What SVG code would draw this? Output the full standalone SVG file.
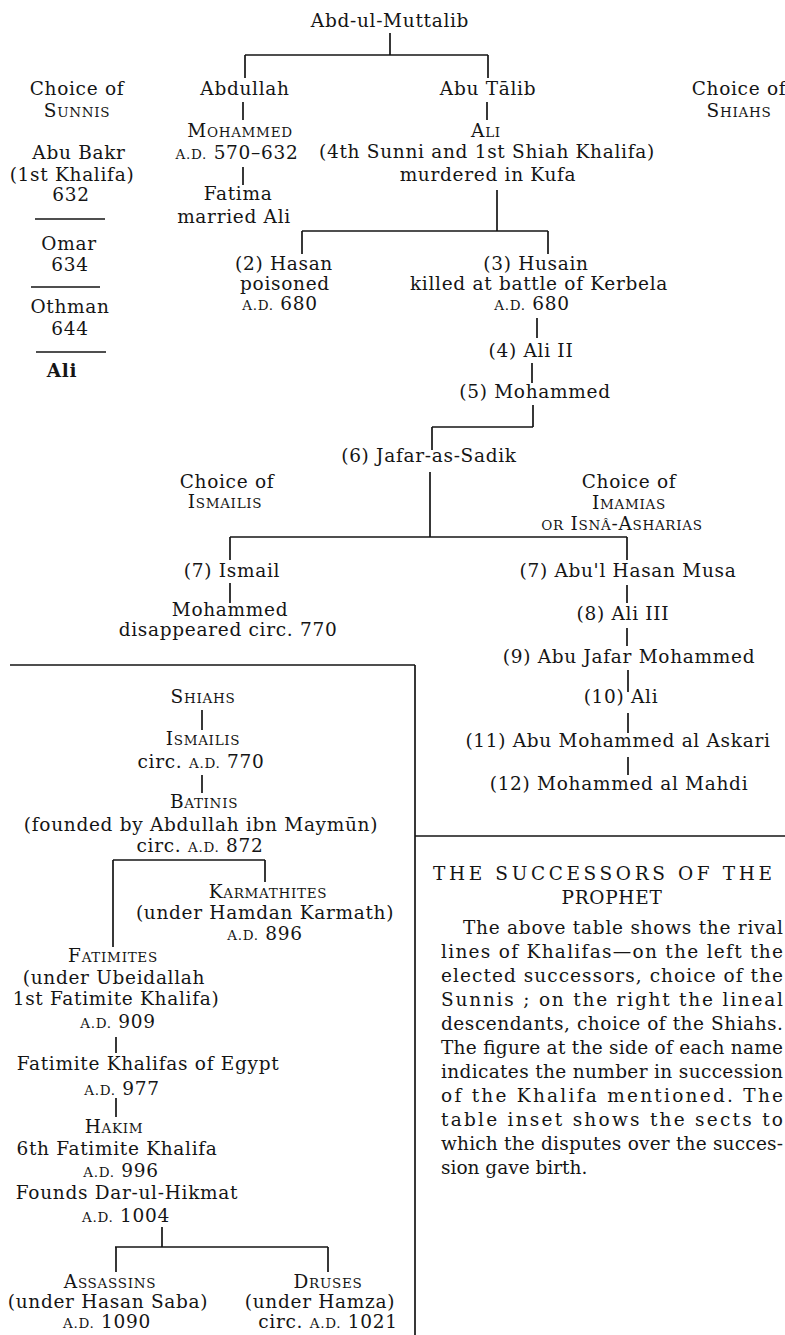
<svg xmlns="http://www.w3.org/2000/svg" width="785" height="1335" viewBox="0 0 785 1335">
<style>
text{font-family:"DejaVu Serif","Liberation Serif",serif;font-size:18.5px;letter-spacing:0.7px;fill:#151515;text-anchor:middle}
.s{font-size:13.5px}
.p{text-anchor:start;letter-spacing:0}
.b{font-weight:bold}
#connectors line{stroke:#151515;stroke-width:1.7;fill:none}
#connectors .h{stroke-width:1.3}
</style>
<rect width="785" height="1335" fill="#ffffff"/>
<g id="connectors">
<line x1="390" y1="33" x2="390" y2="55"/>
<line class="h" x1="245" y1="55" x2="488" y2="55"/>
<line x1="245" y1="55" x2="245" y2="78"/>
<line x1="488" y1="55" x2="488" y2="78"/>
<line x1="243" y1="102" x2="243" y2="120"/>
<line x1="243" y1="167" x2="243" y2="185"/>
<line x1="487" y1="102" x2="487" y2="120"/>
<line x1="497" y1="190" x2="497" y2="231"/>
<line class="h" x1="302" y1="231" x2="548" y2="231"/>
<line x1="302" y1="231" x2="302" y2="254"/>
<line x1="548" y1="231" x2="548" y2="254"/>
<line x1="537" y1="318" x2="537" y2="338"/>
<line x1="532" y1="363" x2="532" y2="383"/>
<line x1="533" y1="405" x2="533" y2="427"/>
<line class="h" x1="432" y1="427" x2="533" y2="427"/>
<line x1="432" y1="427" x2="432" y2="450"/>
<line x1="430" y1="472" x2="430" y2="537"/>
<line class="h" x1="230" y1="537" x2="627" y2="537"/>
<line x1="230" y1="537" x2="230" y2="560"/>
<line x1="627" y1="537" x2="627" y2="560"/>
<line x1="230" y1="583" x2="230" y2="603"/>
<line x1="627" y1="585" x2="627" y2="603"/>
<line x1="627" y1="628" x2="627" y2="646"/>
<line x1="628" y1="670" x2="628" y2="692"/>
<line x1="628" y1="713" x2="628" y2="733"/>
<line x1="628" y1="757" x2="628" y2="775"/>
<line class="h" x1="35" y1="219" x2="105" y2="219"/>
<line class="h" x1="31" y1="287" x2="100" y2="287"/>
<line class="h" x1="36" y1="352" x2="106" y2="352"/>
<line class="h" x1="10" y1="665" x2="415" y2="665"/>
<line x1="415" y1="665" x2="415" y2="1335"/>
<line class="h" x1="415" y1="836" x2="785" y2="836"/>
<line x1="202" y1="710" x2="202" y2="730"/>
<line x1="202" y1="775" x2="202" y2="793"/>
<line class="h" x1="113" y1="860" x2="265" y2="860"/>
<line x1="113" y1="860" x2="113" y2="947"/>
<line x1="265" y1="860" x2="265" y2="882"/>
<line x1="116" y1="1037" x2="116" y2="1053"/>
<line x1="116" y1="1098" x2="116" y2="1117"/>
<line x1="162" y1="1227" x2="162" y2="1247"/>
<line class="h" x1="115" y1="1247" x2="328" y2="1247"/>
<line x1="116" y1="1247" x2="116" y2="1272"/>
<line x1="328" y1="1247" x2="328" y2="1272"/>
</g>
<g id="abd-ul-muttalib"><text x="390" y="27">Abd-ul-Muttalib</text></g>
<g id="choice-sunnis"><text x="77" y="95">Choice of</text><text x="77" y="117">S<tspan class="s">UNNIS</tspan></text></g>
<g id="abdullah"><text x="245" y="95">Abdullah</text></g>
<g id="mohammed"><text x="240" y="137">M<tspan class="s">OHAMMED</tspan></text><text x="237" y="159"><tspan class="s">A.D.</tspan> 570–632</text></g>
<g id="fatima"><text x="238" y="200">Fatima</text><text x="234" y="223">married Ali</text></g>
<g id="abu-talib"><text x="488" y="95">Abu Tālib</text></g>
<g id="ali"><text x="486" y="137">A<tspan class="s">LI</tspan></text><text x="487" y="158">(4th Sunni and 1st Shiah Khalifa)</text><text x="488" y="181">murdered in Kufa</text></g>
<g id="choice-shiahs"><text x="739" y="95">Choice of</text><text x="739" y="117">S<tspan class="s">HIAHS</tspan></text></g>
<g id="abu-bakr"><text x="79" y="159">Abu Bakr</text><text x="72" y="181">(1st Khalifa)</text><text x="71" y="201">632</text></g>
<g id="omar"><text x="69" y="250">Omar</text><text x="70" y="271">634</text></g>
<g id="othman"><text x="70" y="313">Othman</text><text x="70" y="335">644</text></g>
<g id="ali-sunni"><text class="b" x="62" y="377">Ali</text></g>
<g id="hasan"><text x="284" y="270">(2) Hasan</text><text x="285" y="290">poisoned</text><text x="280" y="310"><tspan class="s">A.D.</tspan> 680</text></g>
<g id="husain"><text x="536" y="270">(3) Husain</text><text x="539" y="290">killed at battle of Kerbela</text><text x="532" y="310"><tspan class="s">A.D.</tspan> 680</text></g>
<g id="ali-ii"><text x="531" y="357">(4) Ali II</text></g>
<g id="mohammed-5"><text x="535" y="398">(5) Mohammed</text></g>
<g id="jafar"><text x="429" y="462">(6) Jafar-as-Sadik</text></g>
<g id="choice-ismailis"><text x="227" y="488">Choice of</text><text x="225" y="508">I<tspan class="s">SMAILIS</tspan></text></g>
<g id="choice-imamias"><text x="629" y="488">Choice of</text><text x="629" y="509">I<tspan class="s">MAMIAS</tspan></text><text x="622" y="530"><tspan class="s">OR</tspan> I<tspan class="s">SNÂ</tspan>-A<tspan class="s">SHARIAS</tspan></text></g>
<g id="ismail"><text x="232" y="577">(7) Ismail</text></g>
<g id="mohammed-ismaili"><text x="230" y="616">Mohammed</text><text x="228" y="636">disappeared circ. 770</text></g>
<g id="musa"><text x="628" y="577">(7) Abu'l Hasan Musa</text></g>
<g id="ali-iii"><text x="623" y="620">(8) Ali III</text></g>
<g id="abu-jafar"><text x="629" y="663">(9) Abu Jafar Mohammed</text></g>
<g id="ali-10"><text x="621" y="703">(10) Ali</text></g>
<g id="askari"><text x="618" y="747">(11) Abu Mohammed al Askari</text></g>
<g id="mahdi"><text x="619" y="790">(12) Mohammed al Mahdi</text></g>
<g id="shiahs"><text x="203" y="703">S<tspan class="s">HIAHS</tspan></text></g>
<g id="ismailis"><text x="203" y="745">I<tspan class="s">SMAILIS</tspan></text><text x="201" y="768">circ. <tspan class="s">A.D.</tspan> 770</text></g>
<g id="batinis"><text x="204" y="808">B<tspan class="s">ATINIS</tspan></text><text x="201" y="831">(founded by Abdullah ibn Maymūn)</text><text x="200" y="852">circ. <tspan class="s">A.D.</tspan> 872</text></g>
<g id="karmathites"><text x="268" y="898">K<tspan class="s">ARMATHITES</tspan></text><text x="265" y="919">(under Hamdan Karmath)</text><text x="265" y="940"><tspan class="s">A.D.</tspan> 896</text></g>
<g id="fatimites"><text x="113" y="962">F<tspan class="s">ATIMITES</tspan></text><text x="114" y="984">(under Ubeidallah</text><text x="116" y="1005">1st Fatimite Khalifa)</text><text x="118" y="1028"><tspan class="s">A.D.</tspan> 909</text></g>
<g id="fatimite-egypt"><text x="148" y="1070">Fatimite Khalifas of Egypt</text><text x="122" y="1095"><tspan class="s">A.D.</tspan> 977</text></g>
<g id="hakim"><text x="114" y="1133">H<tspan class="s">AKIM</tspan></text><text x="117" y="1155">6th Fatimite Khalifa</text><text x="121" y="1177"><tspan class="s">A.D.</tspan> 996</text><text x="127" y="1199">Founds Dar-ul-Hikmat</text><text x="126" y="1222"><tspan class="s">A.D.</tspan> 1004</text></g>
<g id="assassins"><text x="110" y="1288">A<tspan class="s">SSASSINS</tspan></text><text x="108" y="1308">(under Hasan Saba)</text><text x="107" y="1328"><tspan class="s">A.D.</tspan> 1090</text></g>
<g id="druses"><text x="328" y="1288">D<tspan class="s">RUSES</tspan></text><text x="320" y="1308">(under Hamza)</text><text x="328" y="1328">circ. <tspan class="s">A.D.</tspan> 1021</text></g>
<g id="caption">
<text class="p" x="433" y="880" textLength="339" lengthAdjust="spacing">THE SUCCESSORS OF THE</text>
<text x="612" y="904">PROPHET</text>
<text class="p" x="463" y="934" textLength="320" lengthAdjust="spacing">The above table shows the rival</text>
<text class="p" x="441" y="958" textLength="342" lengthAdjust="spacing">lines of Khalifas—on the left the</text>
<text class="p" x="441" y="982" textLength="342" lengthAdjust="spacing">elected successors, choice of the</text>
<text class="p" x="441" y="1006" textLength="342" lengthAdjust="spacing">Sunnis ; on the right the lineal</text>
<text class="p" x="441" y="1030" textLength="342" lengthAdjust="spacing">descendants, choice of the Shiahs.</text>
<text class="p" x="441" y="1054" textLength="342" lengthAdjust="spacing">The figure at the side of each name</text>
<text class="p" x="441" y="1078" textLength="342" lengthAdjust="spacing">indicates the number in succession</text>
<text class="p" x="441" y="1102" textLength="342" lengthAdjust="spacing">of the Khalifa mentioned. The</text>
<text class="p" x="441" y="1126" textLength="342" lengthAdjust="spacing">table inset shows the sects to</text>
<text class="p" x="441" y="1150" textLength="342" lengthAdjust="spacing">which the disputes over the succes-</text>
<text class="p" x="441" y="1174">sion gave birth.</text>
</g>
</svg>
